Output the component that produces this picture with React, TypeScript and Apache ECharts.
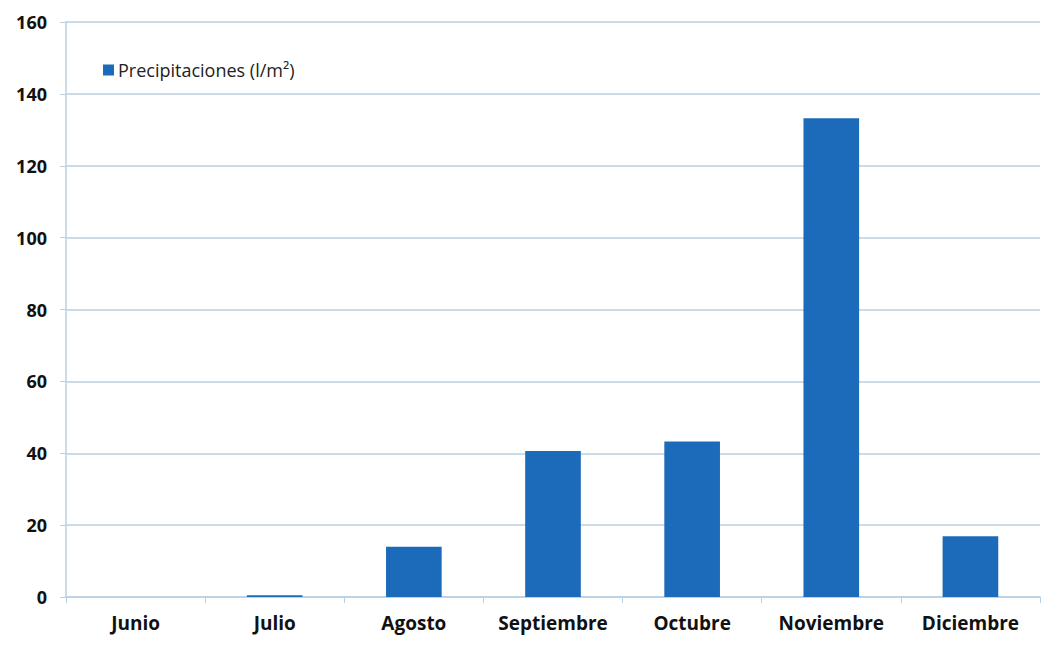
import React, { useEffect, useRef } from "react";
import * as echarts from "echarts";

const categories = ["Junio", "Julio", "Agosto", "Septiembre", "Octubre", "Noviembre", "Diciembre"];
const precipitaciones = [0, 0.5, 14, 40.6, 43.3, 133.2, 16.9];
const seriesName = "Precipitaciones (l/m²)";

export default function App() {
  const ref = useRef<HTMLDivElement>(null);
  useEffect(() => {
    if (!ref.current) return;
    const chart = echarts.init(ref.current, null, { renderer: "svg" });
    const axisColor = "#B9D0E3";
    const font = "Open Sans";
    chart.setOption({
      animation: false,
      backgroundColor: "#ffffff",
      grid: { left: 66, right: 9, top: 22, bottom: 51, containLabel: false },
      legend: {
        data: [seriesName],
        left: 98,
        top: 56,
        icon: "rect",
        itemWidth: 11,
        itemHeight: 11,
        itemGap: 6,
        textStyle: { fontFamily: font, fontSize: 18, color: "#222", padding: [0, 0, 0, -1] },
      },
      xAxis: {
        type: "category",
        data: categories,
        axisLine: { lineStyle: { color: axisColor, width: 1.5 } },
        axisTick: { show: true, length: 6, lineStyle: { color: axisColor } },
        axisLabel: {
          interval: 0,
          fontFamily: font,
          fontWeight: "bold",
          fontSize: 19,
          color: "#111",
          margin: 16,
        },
      },
      yAxis: {
        type: "value",
        min: 0,
        max: 160,
        interval: 20,
        axisLine: { show: true, lineStyle: { color: axisColor, width: 1.5 } },
        axisTick: { show: true, length: 6, lineStyle: { color: axisColor } },
        splitLine: { lineStyle: { color: axisColor, width: 1.5 } },
        axisLabel: {
          fontFamily: font,
          fontWeight: "bold",
          fontSize: 18,
          color: "#111",
          margin: 19,
        },
      },
      series: [
        {
          name: seriesName,
          type: "bar",
          data: precipitaciones,
          barWidth: "40%",
          itemStyle: { color: "#1C6BBB" },
        },
      ],
    });
    return () => chart.dispose();
  }, []);
  return (
    <div
      ref={ref}
      style={{ position: "fixed", left: 0, top: 0, width: 1049, height: 648 }}
    />
  );
}
